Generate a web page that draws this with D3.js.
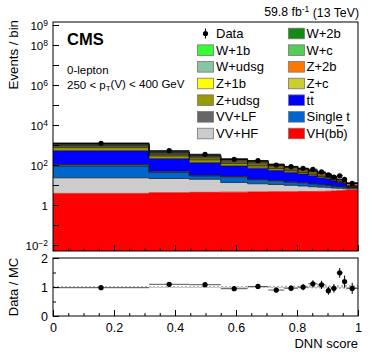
<!DOCTYPE html>
<html>
<head>
<meta charset="utf-8">
<script src="https://cdn.jsdelivr.net/npm/d3@7"></script>
<style>
body { margin: 0; background: #fff; }
svg text { font-family: "Liberation Sans", Arial, Helvetica, sans-serif; fill: #000; }
</style>
</head>
<body>
<svg id="chart" width="374" height="359"></svg>
<script>
// DNN score binning (15 bins, non uniform)
const binEdges = [0, 0.315, 0.447, 0.55, 0.638, 0.706, 0.758, 0.803, 0.837, 0.867, 0.894, 0.912, 0.930, 0.950, 0.962, 1.0];

// observed data and its uncertainty (events / bin)
const dataCounts = [1215, 518, 343, 193, 164, 100, 82, 68, 61, 45, 32, 25, 29, 19, 12];
const dataErr = [37, 21, 17, 14, 13, 10, 8.6, 7.5, 6.6, 5.9, 5.1, 3.9, 3.3, 3.3, 2.4];

// relative MC uncertainty (hatched band in ratio panel)
const mcUnc = [0.03, 0.03, 0.03, 0.03, 0.035, 0.04, 0.04, 0.045, 0.05, 0.05, 0.06, 0.06, 0.07, 0.08, 0.08];

// simulated backgrounds + signal, events / bin
const vhbb   = [3.8, 4.1, 4.3, 4.4, 4.5, 4.6, 4.6, 4.7, 4.7, 4.8, 4.9, 5.0, 5.2, 5.4, 5.8];
const vvhf   = [19, 17, 15, 9, 7, 6, 5, 4.2, 3.5, 3, 2.5, 2, 1.6, 1.2, 0.8];
const singleT = [66, 21, 9, 11, 6, 5, 4, 3.5, 3, 2.5, 2.2, 1.8, 1.5, 1.2, 0.8];
const vvlf   = [17, 6, 2.5, 2.5, 1.5, 1.2, 1, 0.8, 0.7, 0.6, 0.5, 0.4, 0.3, 0.3, 0.2];
const ttbar  = [410, 160, 100, 62, 50, 36, 28, 22, 17, 12, 10, 7, 5, 3.5, 0.9];
const zudsg  = [225, 75, 50, 30, 22, 13, 9, 7, 5, 3.5, 2.8, 1.5, 0.6, 0.5, 0.3];
const zc     = [70, 26, 18, 11, 8, 5, 4, 3, 2.2, 1.6, 1.3, 0.8, 0.5, 0.3, 0.2];
const z1b    = [70, 30, 22, 14, 12, 8, 6, 5, 4, 3, 2.5, 1.6, 1.1, 0.8, 0.6];
const z2b    = [60, 30, 24, 17, 16, 12, 10, 8, 7, 6, 5.5, 4, 2.4, 1.9, 2.4];
const wudsg  = [120, 40, 27, 16, 12, 7, 5, 3.5, 2.6, 1.7, 1.4, 0.8, 0.4, 0.3, 0.2];
const wc     = [60, 20, 14, 8, 7, 4, 3, 2.2, 1.7, 1.2, 1, 0.5, 0.3, 0.2, 0.1];
const w1b    = [54, 20, 14, 9, 7, 5, 3.5, 2.5, 2, 1.4, 1.2, 0.5, 0.4, 0.2, 0.2];
const w2b    = [70, 25, 18, 11, 8, 5, 2.5, 1.8, 1.5, 0.6, 0.9, 0.3, 0.2, 0.2, 0.1];

// tick labels
const yLabelled = [1e-2, 1, 1e2, 1e4, 1e6, 1e8, 1e9];
const xTickLabels = [0, 0.2, 0.4, 0.6, 0.8, 1];
const ratioTickLabels = [0, 1, 2];

// stacking order, bottom to top
const processes = [
  {key: "vhbb", label: "VH(bb)", color: "#ff0000", values: vhbb},
  {key: "vvhf", label: "VV+HF", color: "#cccccc", values: vvhf},
  {key: "st", label: "Single t", color: "#0066cc", values: singleT},
  {key: "vvlf", label: "VV+LF", color: "#666666", values: vvlf},
  {key: "tt", label: "tt", color: "#0000ff", values: ttbar},
  {key: "zudsg", label: "Z+udsg", color: "#999900", values: zudsg},
  {key: "zc", label: "Z+c", color: "#cccc33", values: zc},
  {key: "z1b", label: "Z+1b", color: "#ffff00", values: z1b},
  {key: "z2b", label: "Z+2b", color: "#ff7700", values: z2b},
  {key: "wudsg", label: "W+udsg", color: "#86c6a6", values: wudsg},
  {key: "wc", label: "W+c", color: "#55cc55", values: wc},
  {key: "w1b", label: "W+1b", color: "#33ff33", values: w1b},
  {key: "w2b", label: "W+2b", color: "#138a13", values: w2b}
];

// legend, row-wise in two columns
const legendOrder = ["data", "w2b", "w1b", "wc", "wudsg", "z2b", "z1b", "zc", "zudsg", "tt", "vvlf", "st", "vvhf", "vhbb"];

const svg = d3.select("#chart");

// ---------- scales ----------
const x = d3.scaleLinear().domain([0, 1]).range([53, 358]);
const y = d3.scaleLog().domain([Math.pow(10, -2.3), Math.pow(10, 9.15)]).range([251, 22]);
const yr = d3.scaleLinear().domain([0, 2]).range([316, 258]);

// table for d3.stack
let rows = [];
for (let i = 0; i < dataCounts.length; i++) {
  let r = {lo: binEdges[i], hi: binEdges[i + 1]};
  for (let p of processes) r[p.key] = p.values[i];
  rows.push(r);
}
const stack = d3.stack().keys(processes.map(p => p.key));
const layers = stack(rows);
const mcTotal = rows.map((r, i) => layers[layers.length - 1][i][1]);

// two points per bin so that the area comes out as steps
function stepPoints(layer) {
  let pts = [];
  layer.forEach((d, i) => {
    pts.push({x: d.data.lo, y0: d[0], y1: d[1]});
    pts.push({x: d.data.hi, y0: d[0], y1: d[1]});
  });
  return pts;
}
const ymin = y.domain()[0];
const area = d3.area()
  .x(d => x(d.x))
  .y0(d => y(Math.max(d.y0, ymin)))
  .y1(d => y(Math.max(d.y1, ymin)));
const topLine = d3.line()
  .x(d => x(d.x))
  .y(d => y(Math.max(d.y1, ymin)));

// ---------- main panel ----------
const main = svg.append("g");
main.append("defs").append("clipPath").attr("id", "clipMain")
  .append("rect").attr("x", 53).attr("y", 22).attr("width", 305).attr("height", 229);

const stackG = main.append("g").attr("clip-path", "url(#clipMain)");
stackG.selectAll("path.fill")
  .data(layers)
  .enter().append("path")
  .attr("class", "fill")
  .attr("d", l => area(stepPoints(l)))
  .attr("fill", (l, i) => processes[i].color);
stackG.selectAll("path.edge")
  .data(layers)
  .enter().append("path")
  .attr("class", "edge")
  .attr("d", l => topLine(stepPoints(l)))
  .attr("fill", "none")
  .attr("stroke", (l, i) => i == 0 ? "#dd0000" : "#111")
  .attr("stroke-width", 0.7);

// data points
const pts = main.append("g");
dataCounts.forEach((n, i) => {
  let cx = x((binEdges[i] + binEdges[i + 1]) / 2);
  pts.append("line")
    .attr("x1", x(binEdges[i])).attr("x2", x(binEdges[i + 1]))
    .attr("y1", y(n)).attr("y2", y(n))
    .attr("stroke", "#000").attr("stroke-width", 1);
  pts.append("line")
    .attr("x1", cx).attr("x2", cx)
    .attr("y1", y(n - dataErr[i])).attr("y2", y(n + dataErr[i]))
    .attr("stroke", "#000").attr("stroke-width", 1);
  pts.append("circle").attr("cx", cx).attr("cy", y(n)).attr("r", 2.6).attr("fill", "#000");
});

// y axis (log)
const yTicks = d3.range(-2, 10).map(e => Math.pow(10, e));
const gY = main.append("g").attr("transform", "translate(53,0)")
  .call(d3.axisLeft(y).tickValues(yTicks).tickSize(-6).tickPadding(5).tickFormat(""));
gY.select(".domain").remove();
gY.selectAll(".tick line").attr("stroke", "#000");
gY.selectAll(".tick text").each(function(d) {
  let t = d3.select(this).attr("font-size", 11.5).attr("dy", "0.35em");
  if (!yLabelled.some(v => Math.abs(Math.log10(v) - Math.log10(d)) < 1e-6)) return;
  let e = Math.round(Math.log10(d));
  if (e === 0) {
    t.text("1");
  } else {
    t.append("tspan").text("10");
    t.append("tspan").attr("dy", "-0.45em").attr("font-size", 8.5).text(e < 0 ? "\u2212" + (-e) : e);
  }
});

// x ticks on main panel bottom
function xTicks(g, yb) {
  g.append("g").attr("transform", `translate(0,${yb})`)
    .call(d3.axisBottom(x).tickValues(d3.range(0, 1.0001, 0.05)).tickSize(-3).tickFormat(""))
    .call(a => a.select(".domain").remove());
  g.append("g").attr("transform", `translate(0,${yb})`)
    .call(d3.axisBottom(x).tickValues(xTickLabels).tickSize(-6).tickFormat(""))
    .call(a => a.select(".domain").remove());
}
xTicks(main, 251);

main.append("rect").attr("x", 53).attr("y", 22).attr("width", 305).attr("height", 229)
  .attr("fill", "none").attr("stroke", "#000").attr("stroke-width", 1);

// texts
main.append("text").attr("x", 67).attr("y", 45).attr("font-size", 16.5).attr("font-weight", "bold").text("CMS");
main.append("text").attr("x", 67).attr("y", 74).attr("font-size", 11.5).text("0-lepton");
let sel = main.append("text").attr("x", 67).attr("y", 89).attr("font-size", 11.5);
sel.append("tspan").text("250 < p");
sel.append("tspan").attr("dy", "0.3em").attr("font-size", 8).text("T");
sel.append("tspan").attr("dy", "-0.3em").text("(V) < 400 GeV");

let lumi = svg.append("text").attr("x", 359).attr("y", 15.5).attr("font-size", 12.3).attr("text-anchor", "end");
lumi.append("tspan").text("59.8 fb");
lumi.append("tspan").attr("dy", "-0.45em").attr("font-size", 8.5).text("-1");
lumi.append("tspan").attr("dy", "0.45em").text(" (13 TeV)");

svg.append("text").attr("transform", "translate(18,20) rotate(-90)").attr("text-anchor", "end")
  .attr("font-size", 13.3).text("Events / bin");

// legend
const legend = main.append("g");
legendOrder.forEach((k, i) => {
  let col = i % 2, row = Math.floor(i / 2);
  let cy = 33.5 + row * 16.67;
  let sx = col == 0 ? 197.5 : 288.5;
  let tx = col == 0 ? 216 : 306.5;
  if (k == "data") {
    legend.append("line").attr("x1", sx + 8).attr("x2", sx + 8).attr("y1", cy - 5).attr("y2", cy + 5)
      .attr("stroke", "#000");
    legend.append("circle").attr("cx", sx + 8).attr("cy", cy).attr("r", 2.6).attr("fill", "#000");
    legend.append("text").attr("x", tx).attr("y", cy + 4.5).attr("font-size", 13).text("Data");
    return;
  }
  let p = processes.find(q => q.key == k);
  legend.append("rect").attr("x", sx).attr("y", cy - 5.3).attr("width", 16).attr("height", 10.6)
    .attr("fill", p.color).attr("stroke", "#777").attr("stroke-width", 0.8);
  let t = legend.append("text").attr("x", tx).attr("y", cy + 4.5).attr("font-size", 13);
  if (k == "tt") {
    t.append("tspan").text("t");
    t.append("tspan").style("text-decoration", "overline").text("t");
  } else if (k == "vhbb") {
    t.append("tspan").text("VH(b");
    t.append("tspan").style("text-decoration", "overline").text("b");
    t.append("tspan").text(")");
  } else {
    t.text(p.label);
  }
});

// ---------- ratio panel ----------
const ratio = svg.append("g");
const defs = ratio.append("defs");
const pat = defs.append("pattern").attr("id", "hatch").attr("patternUnits", "userSpaceOnUse")
  .attr("width", 4).attr("height", 4);
pat.append("path").attr("d", "M0,4 L4,0 M0,0 L4,4").attr("stroke", "#8a8a8a").attr("stroke-width", 0.6);

ratio.selectAll("rect.band")
  .data(mcUnc)
  .enter().append("rect")
  .attr("class", "band")
  .attr("x", (u, i) => x(binEdges[i]))
  .attr("width", (u, i) => x(binEdges[i + 1]) - x(binEdges[i]))
  .attr("y", u => yr(1 + u))
  .attr("height", u => yr(1 - u) - yr(1 + u))
  .attr("fill", "url(#hatch)");
ratio.append("line").attr("x1", x(0)).attr("x2", x(1)).attr("y1", yr(1)).attr("y2", yr(1))
  .attr("stroke", "#999").attr("stroke-width", 0.8).attr("stroke-dasharray", "2,2");

dataCounts.forEach((n, i) => {
  let r = n / mcTotal[i];
  let re = dataErr[i] / mcTotal[i];
  let cx = x((binEdges[i] + binEdges[i + 1]) / 2);
  ratio.append("line")
    .attr("x1", x(binEdges[i])).attr("x2", x(binEdges[i + 1]))
    .attr("y1", yr(r)).attr("y2", yr(r))
    .attr("stroke", "#555").attr("stroke-width", 1);
  ratio.append("line").attr("x1", cx).attr("x2", cx)
    .attr("y1", yr(r - re)).attr("y2", yr(r + re))
    .attr("stroke", "#000").attr("stroke-width", 1);
  ratio.append("circle").attr("cx", cx).attr("cy", yr(r)).attr("r", 2.6).attr("fill", "#000");
});

// ratio y axis
const gR = ratio.append("g").attr("transform", "translate(53,0)");
gR.append("g").call(d3.axisLeft(yr).tickValues([0.5, 1.5]).tickSize(-3).tickFormat(""))
  .call(a => a.select(".domain").remove());
gR.append("g").call(d3.axisLeft(yr).tickValues(ratioTickLabels).tickSize(-6).tickPadding(5).tickFormat(d3.format("d")))
  .call(a => a.select(".domain").remove())
  .call(a => a.selectAll("text").attr("font-size", 12.5));

// ratio x axis
xTicks(ratio, 316);
ratio.append("g").attr("transform", "translate(0,316)")
  .call(d3.axisBottom(x).tickValues(xTickLabels).tickSize(0).tickPadding(7).tickFormat(d => d === 0 || d === 1 ? d : d.toFixed(1)))
  .call(a => a.select(".domain").remove())
  .call(a => a.selectAll("text").attr("font-size", 12.5));

ratio.append("rect").attr("x", 53).attr("y", 258).attr("width", 305).attr("height", 58)
  .attr("fill", "none").attr("stroke", "#000").attr("stroke-width", 1);

svg.append("text").attr("transform", "translate(18,287) rotate(-90)").attr("text-anchor", "middle")
  .attr("font-size", 13).text("Data / MC");
svg.append("text").attr("x", 358).attr("y", 348).attr("text-anchor", "end")
  .attr("font-size", 13).text("DNN score");

svg.selectAll(".tick line").attr("stroke", "#000");
</script>
</body>
</html>
